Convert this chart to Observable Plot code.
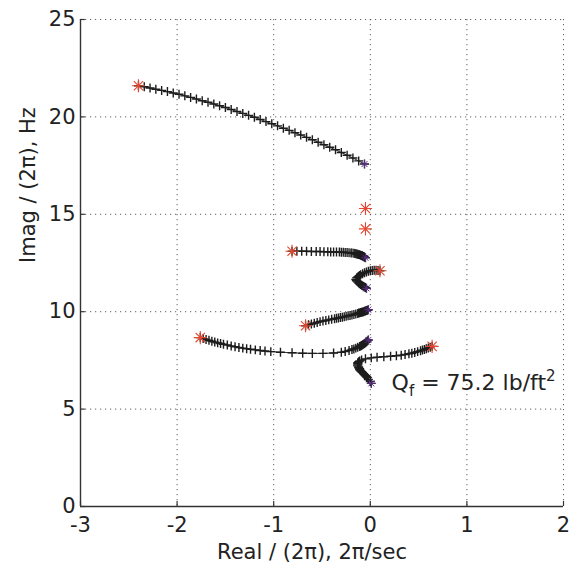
<!DOCTYPE html>
<html>
<head>
<meta charset="utf-8">
<script src="https://cdn.jsdelivr.net/npm/d3@7"></script>
<script src="https://cdn.jsdelivr.net/npm/@observablehq/plot@0.6"></script>
<style>
  html, body { margin: 0; padding: 0; background: #fff; }
</style>
</head>
<body>
<div id="chart"></div>
<script>
// ---- data ----
const xTicks = [-3, -2, -1, 0, 1, 2];
const yTicks = [0, 5, 10, 15, 20, 25];
const xLabel = "Real / (2\u03C0), 2\u03C0/sec";
const yLabel = "Imag / (2\u03C0), Hz";
const annotationText = "Qf = 75.2 lb/ft2";

// root-locus branches: [real/(2pi), imag/(2pi)], first point = start (red *), last = end
const branch1 = [
  [-2.40, 21.60], [-2.34, 21.55], [-2.28, 21.48], [-2.22, 21.42], [-2.16, 21.36],
  [-2.10, 21.30], [-2.04, 21.23], [-1.98, 21.16], [-1.92, 21.08], [-1.86, 21.00],
  [-1.80, 20.92], [-1.74, 20.83], [-1.68, 20.75], [-1.62, 20.66], [-1.56, 20.57],
  [-1.50, 20.48], [-1.44, 20.38], [-1.38, 20.28], [-1.32, 20.18], [-1.26, 20.08],
  [-1.20, 19.98], [-1.14, 19.87], [-1.08, 19.76], [-1.02, 19.65], [-0.96, 19.54],
  [-0.90, 19.42], [-0.84, 19.31], [-0.78, 19.19], [-0.72, 19.07], [-0.66, 18.95],
  [-0.60, 18.83], [-0.54, 18.70], [-0.48, 18.57], [-0.42, 18.44], [-0.36, 18.31],
  [-0.30, 18.17], [-0.24, 18.03], [-0.18, 17.89], [-0.12, 17.74], [-0.06, 17.58]
];
const branch2 = [
  [-0.81, 13.10], [-0.76, 13.10], [-0.71, 13.10], [-0.66, 13.10], [-0.61, 13.09],
  [-0.56, 13.09], [-0.52, 13.09], [-0.48, 13.08], [-0.44, 13.08], [-0.41, 13.07],
  [-0.38, 13.07], [-0.35, 13.06], [-0.32, 13.06], [-0.30, 13.05], [-0.28, 13.05],
  [-0.26, 13.04], [-0.24, 13.04], [-0.22, 13.03], [-0.20, 13.02], [-0.19, 13.01],
  [-0.17, 13.00], [-0.16, 12.99], [-0.15, 12.97], [-0.14, 12.96], [-0.13, 12.95],
  [-0.12, 12.93], [-0.11, 12.92], [-0.10, 12.90], [-0.09, 12.89], [-0.085, 12.87],
  [-0.08, 12.86], [-0.07, 12.84], [-0.065, 12.82], [-0.06, 12.80], [-0.05, 12.77]
];
const branch3 = [
  [0.10, 12.10], [0.08, 12.12], [0.06, 12.13], [0.04, 12.13], [0.02, 12.12],
  [0.00, 12.10], [-0.02, 12.08], [-0.04, 12.04], [-0.06, 12.00], [-0.08, 11.95],
  [-0.10, 11.90], [-0.11, 11.86], [-0.12, 11.82], [-0.13, 11.78], [-0.14, 11.74],
  [-0.15, 11.66], [-0.145, 11.61], [-0.14, 11.57], [-0.13, 11.52], [-0.12, 11.47],
  [-0.11, 11.43], [-0.10, 11.39], [-0.09, 11.36], [-0.08, 11.33], [-0.07, 11.30],
  [-0.06, 11.27], [-0.05, 11.24], [-0.04, 11.20]
];
const branch5 = [
  [-0.67, 9.28], [-0.64, 9.33], [-0.61, 9.37], [-0.58, 9.41], [-0.55, 9.45],
  [-0.52, 9.49], [-0.49, 9.52], [-0.46, 9.55], [-0.43, 9.58], [-0.40, 9.61],
  [-0.37, 9.64], [-0.35, 9.66], [-0.33, 9.68], [-0.31, 9.70], [-0.29, 9.72],
  [-0.27, 9.74], [-0.25, 9.76], [-0.23, 9.79], [-0.21, 9.81], [-0.19, 9.83],
  [-0.17, 9.86], [-0.15, 9.88], [-0.13, 9.91], [-0.12, 9.93], [-0.11, 9.94],
  [-0.10, 9.96], [-0.09, 9.97], [-0.08, 9.99], [-0.07, 10.00], [-0.06, 10.02],
  [-0.05, 10.04], [-0.04, 10.06], [-0.03, 10.08], [-0.02, 10.10]
];
const branch6 = [
  [-1.76, 8.67], [-1.73, 8.62], [-1.70, 8.57], [-1.67, 8.53], [-1.64, 8.48],
  [-1.61, 8.44], [-1.58, 8.40], [-1.55, 8.37], [-1.52, 8.33], [-1.48, 8.29],
  [-1.44, 8.24], [-1.40, 8.20], [-1.36, 8.16], [-1.32, 8.13], [-1.28, 8.10],
  [-1.24, 8.07], [-1.19, 8.04], [-1.14, 8.01], [-1.09, 7.98], [-1.03, 7.95],
  [-0.93, 7.92], [-0.81, 7.89], [-0.70, 7.87], [-0.60, 7.86], [-0.49, 7.86],
  [-0.38, 7.88], [-0.30, 7.92], [-0.26, 7.96], [-0.22, 8.01], [-0.19, 8.06],
  [-0.17, 8.09], [-0.15, 8.13], [-0.13, 8.17], [-0.11, 8.21], [-0.10, 8.24],
  [-0.09, 8.27], [-0.08, 8.30], [-0.07, 8.33], [-0.06, 8.37], [-0.05, 8.41],
  [-0.04, 8.45], [-0.03, 8.50], [-0.02, 8.55]
];
const branch7 = [
  [0.64, 8.22], [0.62, 8.18], [0.60, 8.14], [0.58, 8.10], [0.56, 8.06],
  [0.54, 8.03], [0.52, 7.99], [0.49, 7.95], [0.46, 7.91], [0.43, 7.87],
  [0.40, 7.84], [0.36, 7.80], [0.32, 7.77], [0.27, 7.74], [0.21, 7.71],
  [0.14, 7.69], [0.07, 7.66], [0.01, 7.63], [-0.05, 7.58], [-0.09, 7.52],
  [-0.11, 7.47], [-0.12, 7.43], [-0.13, 7.38], [-0.13, 7.33], [-0.13, 7.27],
  [-0.13, 7.22], [-0.12, 7.17], [-0.12, 7.12], [-0.11, 7.07], [-0.11, 7.02],
  [-0.10, 6.97], [-0.09, 6.92], [-0.08, 6.87], [-0.07, 6.82], [-0.06, 6.77],
  [-0.05, 6.72], [-0.04, 6.67], [-0.03, 6.62], [-0.02, 6.52], [0.00, 6.42],
  [0.01, 6.32]
];
// poles that hardly move
const staticPoles = [[-0.05, 15.30], [-0.05, 14.25]];
const annotationPos = [[0.22, 6.35]];

// ---- build tables ----
const branches = [branch1, branch2, branch3, branch5, branch6, branch7];
const pts = branches.flatMap((b, i) => b.map(([re, im]) => ({re, im, branch: i})));
const starts = branches.map(b => ({re: b[0][0], im: b[0][1]}))
  .concat(staticPoles.map(([re, im]) => ({re, im})));
const ends = branches.map(b => ({re: b[b.length - 1][0], im: b[b.length - 1][1]}))
  .concat([{re: staticPoles[0][0], im: staticPoles[0][1]}]);
const annot = annotationPos.map(([re, im]) => ({re, im, text: annotationText}));

const red = "#e4472f";
const purple = "#5a2d84";
const ink = "#1c1c1c";

const chart = Plot.plot({
  width: 570,
  height: 578,
  marginLeft: 80,
  marginRight: 7,
  marginTop: 19,
  marginBottom: 72,
  style: {fontFamily: "DejaVu Sans", fontSize: "21px", background: "#fff", color: "#222"},
  x: {domain: [-3, 2], label: null},
  y: {domain: [0, 25], label: null},
  marks: [
    Plot.gridX(xTicks, {stroke: "#444", strokeOpacity: 0.85, strokeDasharray: "1.2,3.8"}),
    Plot.gridY(yTicks, {stroke: "#444", strokeOpacity: 0.85, strokeDasharray: "1.2,3.8"}),
    Plot.ruleX([-3], {stroke: "#333", strokeWidth: 1.4}),
    Plot.ruleY([0], {stroke: "#333", strokeWidth: 1.4}),
    Plot.ruleX(xTicks, {y1: 0, y2: 0.26, stroke: "#333", strokeWidth: 1.2}),
    Plot.ruleY(yTicks, {x1: -3, x2: -2.95, stroke: "#333", strokeWidth: 1.2}),
    Plot.axisX(xTicks, {tickSize: 0, tickPadding: 11, tickFormat: d => String(d), fill: "#222"}),
    Plot.axisY(yTicks, {tickSize: 0, tickPadding: 5, tickFormat: d => String(d), fill: "#222"}),
    Plot.line(pts, {x: "re", y: "im", z: "branch", stroke: ink, strokeWidth: 0.9}),
    Plot.dot(pts, {x: "re", y: "im", symbol: "plus", r: 3, stroke: ink, strokeWidth: 1.4}),
    Plot.dot(ends, {x: "re", y: "im", symbol: "plus", r: 2.8, stroke: purple, strokeWidth: 1}),
    Plot.dot(ends, {x: "re", y: "im", symbol: "times", r: 2.8, stroke: purple, strokeWidth: 1}),
    Plot.dot(starts, {x: "re", y: "im", symbol: "plus", r: 4.3, stroke: red, strokeWidth: 1.1}),
    Plot.dot(starts, {x: "re", y: "im", symbol: "times", r: 4.3, stroke: red, strokeWidth: 1.1}),
    Plot.text(annot, {x: "re", y: "im", text: "text", textAnchor: "start", fontSize: 22, fill: "#222"}),
    Plot.text([yLabel], {text: d => d, frameAnchor: "left", dx: -52, rotate: -90, fontSize: 21, fill: "#222"}),
    Plot.text([xLabel], {text: d => d, frameAnchor: "bottom", dx: -10, dy: 52, fontSize: 21, fill: "#222"})
  ]
});

// sub/superscript for the annotation
d3.select(chart).selectAll("text").each(function() {
  if (this.textContent === annotationText) {
    const t = d3.select(this);
    t.text(null);
    t.append("tspan").text("Q");
    t.append("tspan").attr("font-size", 15).attr("dy", 6).text("f");
    t.append("tspan").attr("dy", -6).text(" = 75.2 lb/ft");
    t.append("tspan").attr("font-size", 15).attr("dy", -9).text("2");
  }
});

document.getElementById("chart").appendChild(chart);
</script>
</body>
</html>
